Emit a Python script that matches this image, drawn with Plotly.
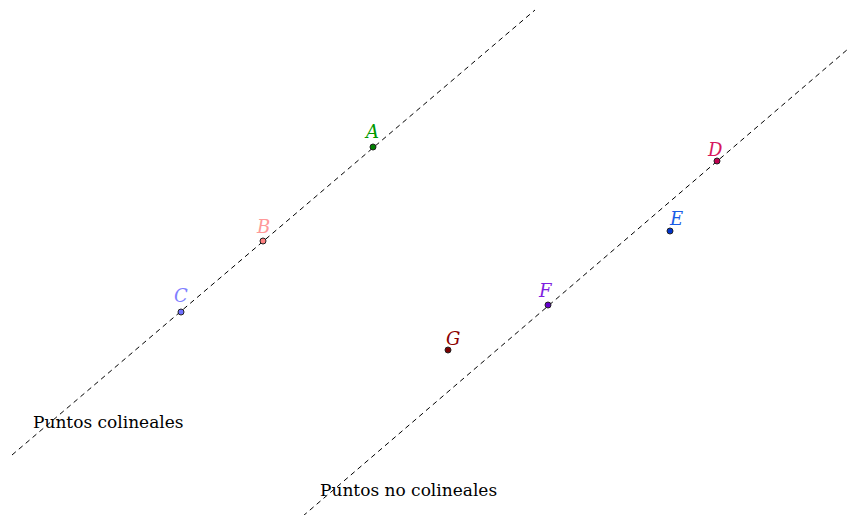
import plotly.graph_objects as go

# ---- data (reference canvas units, y grows downward) ----
point_names = ["A", "B", "C", "D", "E", "F", "G"]
point_x = [373, 263, 181, 717, 670, 548, 448]
point_y = [147, 241, 312, 161, 231, 305, 350]

line1_x = [12, 535]
line1_y = [455, 10]
line2_x = [303, 848]
line2_y = [516, 49]

caption_texts = ["Puntos colineales", "Puntos no colineales"]
caption_x = [31, 318]
caption_y = [422, 490]

# ---- styles ----
label_colors = ["#009900", "#ff9999", "#8080ff", "#d6175e", "#1a5ce6", "#7f1fe0", "#8b0000"]
fill_colors = ["#008000", "#ff8080", "#7070ff", "#c00050", "#0033cc", "#6600cc", "#7a0000"]
label_dx = [-2, 0, 0, -2, 6, -3, 5]
label_dy = [16, 15, 17, 12, 13, 15, 12]

fig = go.Figure()
for lx, ly in [(line1_x, line1_y), (line2_x, line2_y)]:
    fig.add_trace(go.Scatter(x=lx, y=ly, mode="lines",
                             line=dict(color="black", width=1, dash="5px,4px"),
                             hoverinfo="skip", showlegend=False))

fig.add_trace(go.Scatter(x=point_x, y=point_y, mode="markers",
                         marker=dict(size=6, color=fill_colors,
                                     line=dict(color="#222222", width=1)),
                         showlegend=False, hoverinfo="skip"))

for name, x, y, c, dx, dy in zip(point_names, point_x, point_y, label_colors, label_dx, label_dy):
    fig.add_annotation(x=x, y=y, text="<i>%s</i>" % name, showarrow=False,
                       xshift=dx, yshift=dy,
                       font=dict(family="DejaVu Serif", size=18, color=c))

for t, x, y in zip(caption_texts, caption_x, caption_y):
    fig.add_annotation(x=x, y=y, text=t, showarrow=False, xanchor="left",
                       font=dict(family="DejaVu Serif", size=17, color="black"))

fig.update_layout(
    width=847, height=515,
    margin=dict(l=0, r=0, t=0, b=0),
    paper_bgcolor="white", plot_bgcolor="white",
    hovermode=False,
    xaxis=dict(range=[0, 847], visible=False, fixedrange=True),
    yaxis=dict(range=[515, 0], visible=False, fixedrange=True),
)
fig.write_html("out.html",
               config={"displayModeBar": False, "staticPlot": True},
               post_script="document.body.style.margin='0';document.body.style.overflow='hidden';")
